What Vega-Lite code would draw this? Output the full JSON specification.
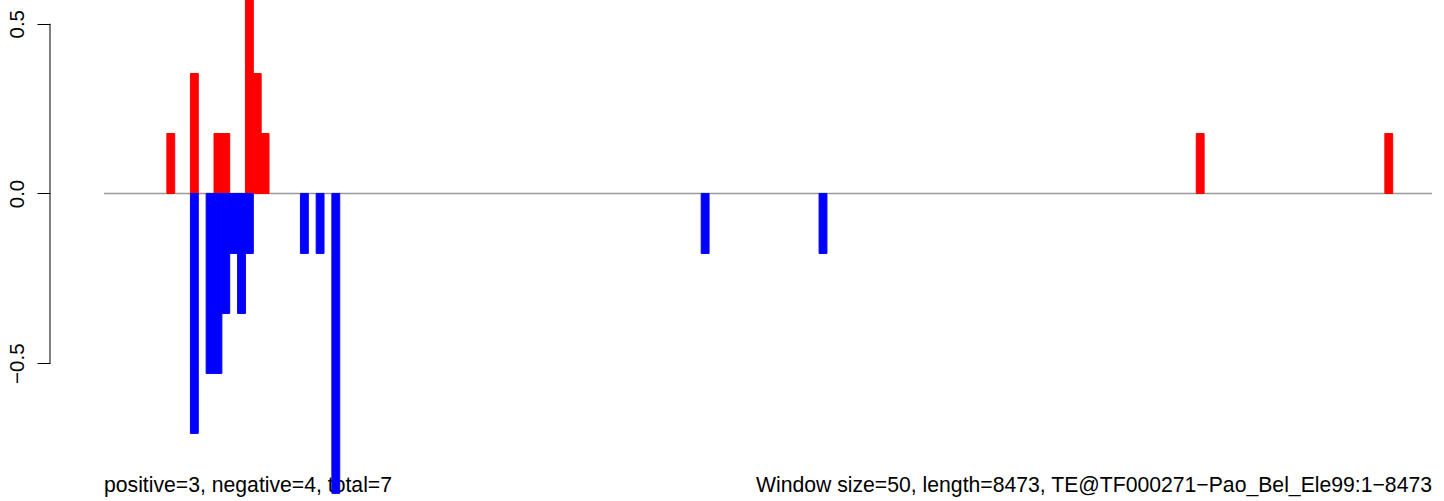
{
  "$schema": "https://vega.github.io/schema/vega-lite/v6.json",
  "width": 1328,
  "height": 501,
  "padding": {"left": 104, "top": 0, "right": 12, "bottom": 0},
  "autosize": {"type": "none"},
  "background": "white",
  "config": {"view": {"stroke": null}, "font": "Liberation Sans"},
  "datasets": {
    "bars": [
      {"start": 400, "end": 450, "value": 0.1767, "sign": "pos"},
      {"start": 550, "end": 600, "value": 0.3534, "sign": "pos"},
      {"start": 700, "end": 750, "value": 0.1767, "sign": "pos"},
      {"start": 750, "end": 800, "value": 0.1767, "sign": "pos"},
      {"start": 900, "end": 950, "value": 0.7068, "sign": "pos"},
      {"start": 950, "end": 1000, "value": 0.3534, "sign": "pos"},
      {"start": 1000, "end": 1050, "value": 0.1767, "sign": "pos"},
      {"start": 6950, "end": 7000, "value": 0.1767, "sign": "pos"},
      {"start": 8150, "end": 8200, "value": 0.1767, "sign": "pos"},
      {"start": 550, "end": 600, "value": -0.7068, "sign": "neg"},
      {"start": 650, "end": 700, "value": -0.5301, "sign": "neg"},
      {"start": 700, "end": 750, "value": -0.5301, "sign": "neg"},
      {"start": 750, "end": 800, "value": -0.3534, "sign": "neg"},
      {"start": 800, "end": 850, "value": -0.1767, "sign": "neg"},
      {"start": 850, "end": 900, "value": -0.3534, "sign": "neg"},
      {"start": 900, "end": 950, "value": -0.1767, "sign": "neg"},
      {"start": 1250, "end": 1300, "value": -0.1767, "sign": "neg"},
      {"start": 1350, "end": 1400, "value": -0.1767, "sign": "neg"},
      {"start": 1450, "end": 1500, "value": -0.8835, "sign": "neg"},
      {"start": 3800, "end": 3850, "value": -0.1767, "sign": "neg"},
      {"start": 4550, "end": 4600, "value": -0.1767, "sign": "neg"}
    ]
  },
  "layer": [
    {
      "data": {"values": [{"label": "positive=3, negative=4, total=7"}]},
      "mark": {"type": "text", "align": "left", "baseline": "alphabetic", "fontSize": 21.2, "color": "black"},
      "encoding": {
        "x": {"datum": 0, "type": "quantitative", "scale": {"domain": [0, 8450], "nice": false, "zero": false}, "axis": null},
        "y": {"datum": -0.879, "type": "quantitative", "scale": {"domain": [-0.906, 0.57], "nice": false, "zero": false},
          "axis": {"values": [-0.5, 0, 0.5], "format": ".1f", "title": null, "grid": false, "domain": false,
            "offset": 54, "tickSize": 13, "tickColor": "black", "tickWidth": 1,
            "labelAngle": 270, "labelAlign": "center", "labelBaseline": "alphabetic", "labelPadding": 14,
            "labelFontSize": 20.5, "labelColor": "black", "labelFont": "Liberation Sans"}},
        "text": {"field": "label"}
      }
    },
    {
      "data": {"values": [{"label": "Window size=50, length=8473, TE@TF000271−Pao_Bel_Ele99:1−8473"}]},
      "mark": {"type": "text", "align": "right", "baseline": "alphabetic", "fontSize": 21.2, "color": "black"},
      "encoding": {
        "x": {"datum": 8450, "type": "quantitative"},
        "y": {"datum": -0.879, "type": "quantitative"},
        "text": {"field": "label"}
      }
    },
    {
      "data": {"values": [{}]},
      "mark": {"type": "rule", "color": "black", "strokeWidth": 1},
      "encoding": {
        "x": {"datum": -343.6, "type": "quantitative"},
        "y": {"datum": 0.5, "type": "quantitative"},
        "y2": {"datum": -0.5}
      }
    },
    {
      "data": {"values": [{}]},
      "mark": {"type": "rule", "color": "#999999", "strokeWidth": 1.3},
      "encoding": {
        "y": {"datum": 0, "type": "quantitative"}
      }
    },
    {
      "data": {"name": "bars"},
      "mark": {"type": "bar", "clip": true, "strokeWidth": 1},
      "encoding": {
        "x": {"field": "start", "type": "quantitative"},
        "x2": {"field": "end"},
        "y": {"field": "value", "type": "quantitative"},
        "y2": {"datum": 0},
        "color": {"field": "sign", "type": "nominal", "scale": {"domain": ["pos", "neg"], "range": ["#ff0000", "#0000ff"]}, "legend": null},
        "stroke": {"field": "sign", "type": "nominal", "scale": {"domain": ["pos", "neg"], "range": ["#ff0000", "#0000ff"]}, "legend": null}
      }
    }
  ]
}
